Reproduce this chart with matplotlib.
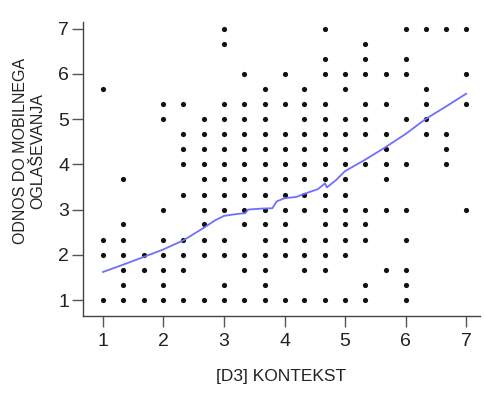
import matplotlib
matplotlib.use("Agg")
from matplotlib import pyplot as plt

plt.rcParams['font.family'] = ['Liberation Sans', 'DejaVu Sans']

# answer levels (scale 1-7 in thirds)
levels = [1.0, 1.33, 1.67, 2.0, 2.33, 2.67, 3.0, 3.33, 3.67, 4.0,
          4.33, 4.67, 5.0, 5.33, 5.67, 6.0, 6.33, 6.67, 7.0]

# for every y level (bottom to top): indexes of x levels that have cases
occupied = [
    [0, 1, 2, 3, 4, 5, 6, 7, 8, 9, 10, 11, 12, 13, 15],
    [1, 3, 6, 8, 13, 15],
    [1, 2, 3, 4, 7, 8, 10, 11, 14, 15],
    [0, 1, 2, 3, 4, 5, 6, 7, 8, 9, 10, 11, 12],
    [0, 1, 3, 4, 5, 6, 8, 9, 10, 11, 12, 13, 15],
    [1, 5, 7, 8, 9, 11, 12, 13],
    [3, 5, 6, 7, 8, 9, 10, 11, 12, 13, 14, 15, 18],
    [4, 5, 6, 7, 8, 9, 10, 11, 12],
    [1, 5, 6, 7, 8, 9, 10, 11, 12, 14],
    [4, 5, 6, 7, 8, 9, 10, 11, 12, 13, 14, 15, 17],
    [4, 5, 6, 7, 8, 9, 10, 11, 12, 14, 17],
    [4, 5, 6, 7, 8, 9, 10, 11, 12, 13, 14, 16, 17],
    [3, 5, 6, 7, 8, 10, 11, 12, 13, 15, 16],
    [3, 4, 6, 7, 8, 9, 10, 11, 13, 14, 16, 18],
    [0, 8, 10, 12, 16],
    [7, 9, 11, 12, 13, 14, 15, 18],
    [11, 13, 15],
    [6, 13],
    [6, 11, 15, 16, 17, 18],
]

# loess fit line
fit_x = [1.0, 1.33, 1.67, 2.0, 2.33, 2.67, 2.85, 3.0, 3.2, 3.35, 3.4, 3.6,
         3.8, 3.87, 4.0, 4.2, 4.33, 4.55, 4.67, 4.7, 4.85, 5.0, 5.33, 5.67,
         6.0, 6.33, 6.67, 7.0]
fit_y = [1.62, 1.78, 1.95, 2.12, 2.32, 2.6, 2.76, 2.86, 2.9, 2.92, 3.0, 3.02,
         3.03, 3.18, 3.25, 3.28, 3.35, 3.45, 3.58, 3.49, 3.65, 3.85, 4.1, 4.38,
         4.67, 5.0, 5.28, 5.56]

xs = []
ys = []
for j, idx in enumerate(occupied):
    for i in idx:
        xs.append(levels[i])
        ys.append(levels[j])

fig = plt.figure(figsize=(4.86, 3.94), dpi=100)
ax = fig.add_axes([83 / 486, 78 / 394, 397 / 486, 294 / 394])

ax.scatter(xs, ys, s=14, color='#111111', linewidths=0)
ax.plot(fit_x, fit_y, color='#6f6fff', linewidth=1.3)

ax.set_xlim(0.67, 7.23)
ax.set_ylim(0.647, 7.146)
ax.set_xticks([1, 2, 3, 4, 5, 6, 7])
ax.set_yticks([1, 2, 3, 4, 5, 6, 7])

for side in ['top', 'right']:
    ax.spines[side].set_visible(False)
for side in ['left', 'bottom']:
    ax.spines[side].set_color('#444444')
    ax.spines[side].set_linewidth(1.0)

ax.tick_params(axis='both', direction='out', length=8, width=1,
               color='#555555', labelsize=14, labelcolor='#222222')
ax.tick_params(axis='x', pad=4)
ax.tick_params(axis='y', pad=2)

ax.set_xlabel('[D3] KONTEKST', fontsize=12.5, color='#222222', labelpad=14)
fig.text(29 / 486, 1 - 151 / 394, 'ODNOS DO MOBILNEGA\nOGLAŠEVANJA',
         rotation=90, ha='center', va='center', multialignment='center',
         fontsize=11.5, color='#222222', linespacing=1.15)

fig.savefig('out.png', dpi=100)
